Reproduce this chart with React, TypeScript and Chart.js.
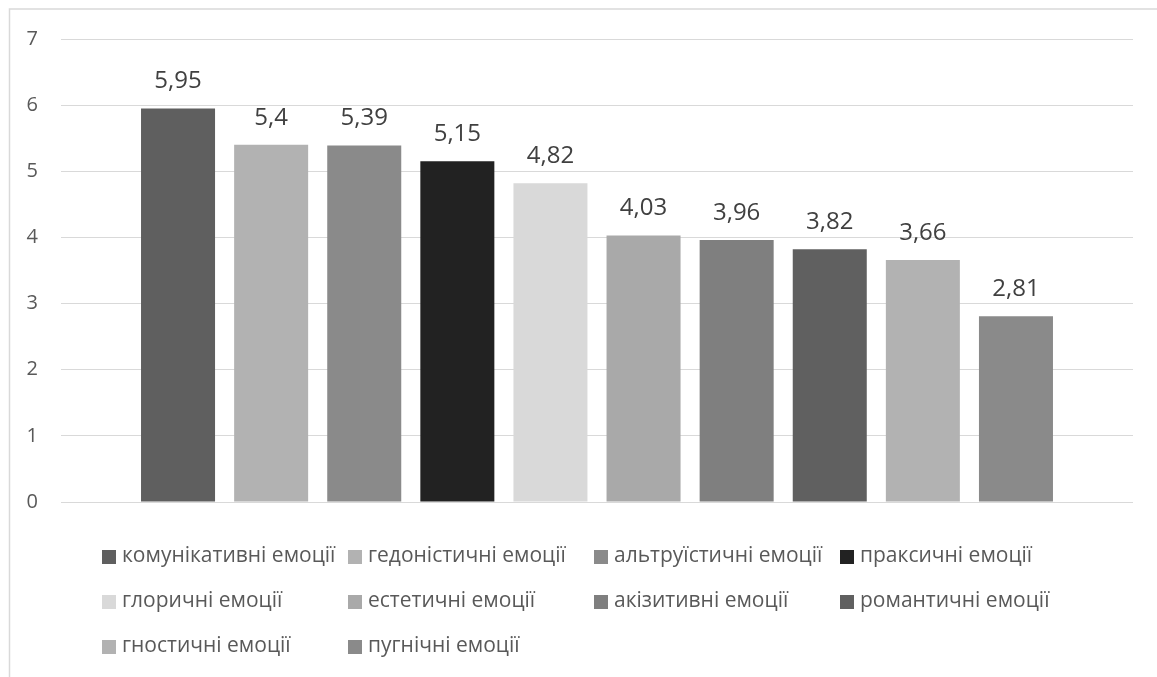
import React, { useEffect, useRef } from "react";
import { Chart, registerables } from "chart.js";

Chart.register(...registerables);

const categories = [""];
const seriesLabels = [
  "комунікативні емоції",
  "гедоністичні емоції",
  "альтруїстичні емоції",
  "праксичні емоції",
  "глоричні емоції",
  "естетичні емоції",
  "акізитивні емоції",
  "романтичні емоції",
  "гностичні емоції",
  "пугнічні емоції",
];
const seriesValues = [5.95, 5.4, 5.39, 5.15, 4.82, 4.03, 3.96, 3.82, 3.66, 2.81];
const seriesColors = [
  "#5f5f5f",
  "#b2b2b2",
  "#8a8a8a",
  "#222222",
  "#d9d9d9",
  "#a9a9a9",
  "#7f7f7f",
  "#606060",
  "#b2b2b2",
  "#8a8a8a",
];
const yMin = 0;
const yMax = 7;
const yStep = 1;

const FONT = "'Open Sans', 'Noto Sans', sans-serif";
const TEXT = "#595959";

const borderPlugin = {
  id: "excelBorder",
  beforeDraw(chart: any) {
    const ctx = chart.ctx;
    ctx.save();
    ctx.fillStyle = "#ffffff";
    ctx.fillRect(0, 0, chart.width, chart.height);
    ctx.strokeStyle = "#d9d9d9";
    ctx.lineWidth = 1.5;
    ctx.beginPath();
    ctx.moveTo(9.5, chart.height);
    ctx.lineTo(9.5, 9);
    ctx.lineTo(chart.width, 9);
    ctx.stroke();
    ctx.restore();
  },
};

const dataLabelPlugin = {
  id: "dataLabels",
  afterDatasetsDraw(chart: any) {
    const ctx = chart.ctx;
    ctx.save();
    ctx.font = `24px ${FONT}`;
    ctx.fillStyle = "#404040";
    ctx.textAlign = "center";
    ctx.textBaseline = "alphabetic";
    chart.data.datasets.forEach((ds: any, i: number) => {
      const meta = chart.getDatasetMeta(i);
      meta.data.forEach((bar: any, j: number) => {
        const v = ds.data[j];
        ctx.fillText(String(v).replace(".", ","), bar.x, bar.y - 20);
      });
    });
    ctx.restore();
  },
};

const legendPlugin = {
  id: "gridLegend",
  afterDraw(chart: any) {
    const ctx = chart.ctx;
    ctx.save();
    ctx.font = `21px ${FONT}`;
    ctx.textBaseline = "middle";
    ctx.textAlign = "left";
    const x0 = 102;
    const colW = 246;
    const y0 = 557;
    const rowH = 45;
    const box = 14;
    chart.data.datasets.forEach((ds: any, i: number) => {
      const col = i % 4;
      const row = Math.floor(i / 4);
      const x = x0 + col * colW;
      const y = y0 + row * rowH;
      ctx.fillStyle = ds.backgroundColor;
      ctx.fillRect(x, y - box / 2, box, box);
      ctx.fillStyle = TEXT;
      ctx.fillText(ds.label, x + box + 6, y - 1);
    });
    ctx.restore();
  },
};

export default function App() {
  const ref = useRef<HTMLCanvasElement | null>(null);
  useEffect(() => {
    document.body.style.margin = "0";
    const canvas = ref.current;
    if (!canvas) return;
    const chart = new Chart(canvas, {
      type: "bar",
      data: {
        labels: categories,
        datasets: seriesLabels.map((label, i) => ({
          label,
          data: [seriesValues[i]],
          backgroundColor: seriesColors[i],
          borderWidth: 0,
          categoryPercentage: 0.8685,
          barPercentage: 0.795,
        })),
      },
      options: {
        animation: false,
        responsive: false,
        maintainAspectRatio: false,
        layout: { padding: { left: 0, top: 39, right: 24, bottom: 175 } },
        plugins: {
          legend: { display: false },
          tooltip: { enabled: false },
        },
        scales: {
          x: { display: false },
          y: {
            min: yMin,
            max: yMax,
            ticks: {
              stepSize: yStep,
              padding: 23,
              color: TEXT,
              font: { family: FONT, size: 20 },
            },
            grid: { color: "#d9d9d9", lineWidth: 1, drawTicks: false },
            border: { display: false },
            afterFit(scale: any) {
              scale.width = 61;
            },
          },
        },
      },
      plugins: [borderPlugin, dataLabelPlugin, legendPlugin],
    });
    return () => chart.destroy();
  }, []);
  return (
    <div style={{ position: "fixed", left: 0, top: 0, width: 1157, height: 677 }}>
      <canvas ref={ref} width={1157} height={677} style={{ width: 1157, height: 677 }} />
    </div>
  );
}
